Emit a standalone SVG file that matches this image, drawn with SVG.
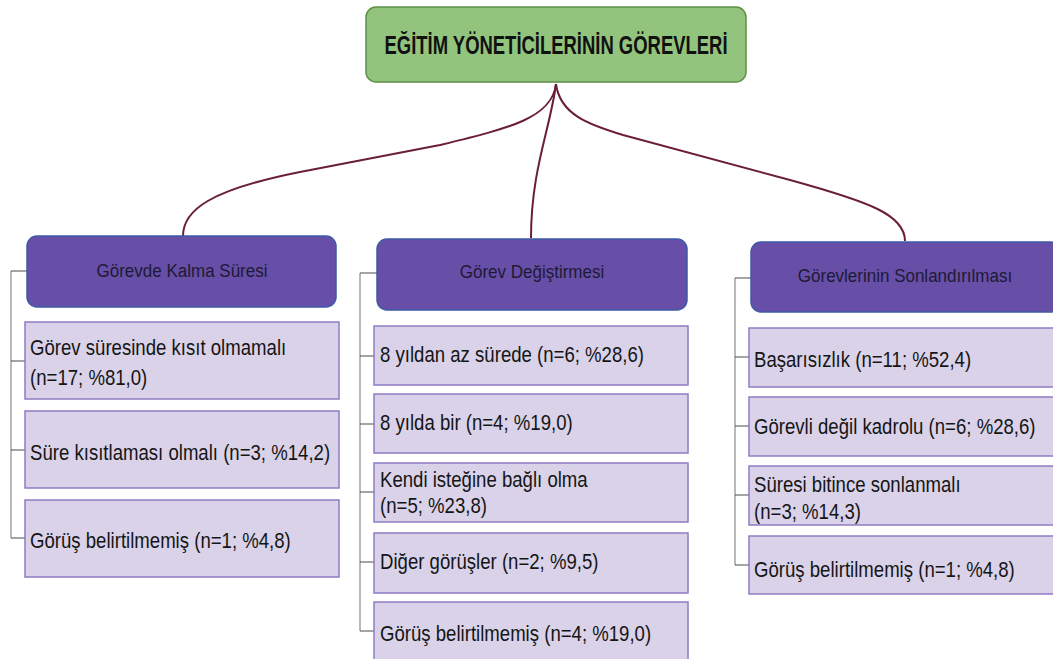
<svg xmlns="http://www.w3.org/2000/svg" width="1053" height="659" viewBox="0 0 1053 659">
  <style>
    .root-box { fill: #93c47d; stroke: #5f8f45; stroke-width: 1.5; }
    .head-box { fill: #674ea7; stroke: #3f5aa6; stroke-width: 1.5; }
    .item-box { fill: #d9d2e9; stroke: #8e7cc3; stroke-width: 1.5; }
    .root-txt { font-family: "Liberation Sans", Arial, sans-serif; font-weight: bold; font-size: 23px; fill: #111; text-anchor: middle; }
    .head-txt { font-family: "Liberation Sans", Arial, sans-serif; font-size: 17px; fill: #1c1a36; text-anchor: middle; }
    .item-txt { font-family: "Liberation Sans", Arial, sans-serif; font-size: 18.6px; fill: #151515; }
    .branch { fill: none; stroke: #6b1e3c; stroke-width: 2; }
    .rail { fill: none; stroke: #8a8a8a; stroke-width: 1.2; }
    .tick { fill: none; stroke: #4a4a4a; stroke-width: 1.2; }
  </style>

  <!-- connectors: curved branches from the title plus bracket rails for each list -->
  <g id="connectors">
    <path class="branch" d="M556,84 C552,118 510,128 440,145 L300,172 C210,190 183,210 183,236"/>
    <path class="branch" d="M556,84 C550,130 531,170 531,238"/>
    <path class="branch" d="M556,84 C560,115 590,125 623,135 L790,180 C870,202 905,215 905,241"/>

    <path class="rail" d="M11,271 V538"/>
    <path class="tick" d="M11,271 H27 M11,361 H25 M11,450 H25 M11,538 H25"/>

    <path class="rail" d="M360,273 V631"/>
    <path class="tick" d="M360,273 H377 M360,356 H374 M360,424 H374 M360,492 H374 M360,562 H374 M360,631 H374"/>

    <path class="rail" d="M735,278 V565"/>
    <path class="tick" d="M735,278 H751 M735,357 H749 M735,426 H749 M735,495 H749 M735,565 H749"/>
  </g>

  <g id="root">
    <rect class="root-box" x="366" y="7" width="380" height="75" rx="10"/>
    <text class="root-txt" transform="translate(556 54) scale(1 1.15)" textLength="343" lengthAdjust="spacingAndGlyphs">EĞİTİM YÖNETİCİLERİNİN GÖREVLERİ</text>
  </g>

  <!-- column 1 -->
  <g id="h-kalma">
    <rect class="head-box" x="27" y="236" width="309" height="71" rx="10"/>
    <text class="head-txt" transform="translate(182 277) scale(1 1.1)">Görevde Kalma Süresi</text>
  </g>
  <g id="k1">
    <rect class="item-box" x="25" y="322" width="314" height="77"/>
    <text class="item-txt" transform="translate(30 355) scale(1 1.18)">Görev süresinde kısıt olmamalı</text>
    <text class="item-txt" transform="translate(30 385) scale(1 1.18)">(n=17; %81,0)</text>
  </g>
  <g id="k2">
    <rect class="item-box" x="25" y="411" width="314" height="77"/>
    <text class="item-txt" transform="translate(30 460) scale(1 1.18)">Süre kısıtlaması olmalı (n=3; %14,2)</text>
  </g>
  <g id="k3">
    <rect class="item-box" x="25" y="500" width="314" height="77"/>
    <text class="item-txt" transform="translate(30 548) scale(1 1.18)">Görüş belirtilmemiş (n=1; %4,8)</text>
  </g>

  <!-- column 2 -->
  <g id="h-degistirme">
    <rect class="head-box" x="377" y="239" width="310" height="71" rx="10"/>
    <text class="head-txt" transform="translate(532 278) scale(1 1.1)">Görev Değiştirmesi</text>
  </g>
  <g id="d1">
    <rect class="item-box" x="374" y="326" width="314" height="59"/>
    <text class="item-txt" transform="translate(380 362) scale(1 1.18)">8 yıldan az sürede (n=6; %28,6)</text>
  </g>
  <g id="d2">
    <rect class="item-box" x="374" y="394" width="314" height="59"/>
    <text class="item-txt" transform="translate(380 430) scale(1 1.18)">8 yılda bir (n=4; %19,0)</text>
  </g>
  <g id="d3">
    <rect class="item-box" x="374" y="463" width="314" height="59"/>
    <text class="item-txt" transform="translate(380 487) scale(1 1.18)">Kendi isteğine bağlı olma</text>
    <text class="item-txt" transform="translate(380 513) scale(1 1.18)">(n=5; %23,8)</text>
  </g>
  <g id="d4">
    <rect class="item-box" x="374" y="533" width="314" height="60"/>
    <text class="item-txt" transform="translate(380 569) scale(1 1.18)">Diğer görüşler (n=2; %9,5)</text>
  </g>
  <g id="d5">
    <rect class="item-box" x="374" y="602" width="314" height="70"/>
    <text class="item-txt" transform="translate(380 641) scale(1 1.18)">Görüş belirtilmemiş (n=4; %19,0)</text>
  </g>

  <!-- column 3 -->
  <g id="h-sonlandirma">
    <rect class="head-box" x="751" y="242" width="310" height="70" rx="10"/>
    <text class="head-txt" transform="translate(905 282) scale(1 1.1)">Görevlerinin Sonlandırılması</text>
  </g>
  <g id="s1">
    <rect class="item-box" x="749" y="328" width="320" height="59"/>
    <text class="item-txt" transform="translate(754 367) scale(1 1.18)">Başarısızlık (n=11; %52,4)</text>
  </g>
  <g id="s2">
    <rect class="item-box" x="749" y="397" width="320" height="59"/>
    <text class="item-txt" transform="translate(754 434) scale(1 1.18)">Görevli değil kadrolu (n=6; %28,6)</text>
  </g>
  <g id="s3">
    <rect class="item-box" x="749" y="466" width="320" height="59"/>
    <text class="item-txt" transform="translate(754 492) scale(1 1.18)">Süresi bitince sonlanmalı</text>
    <text class="item-txt" transform="translate(754 519) scale(1 1.18)">(n=3; %14,3)</text>
  </g>
  <g id="s4">
    <rect class="item-box" x="749" y="536" width="320" height="58"/>
    <text class="item-txt" transform="translate(754 577) scale(1 1.18)">Görüş belirtilmemiş (n=1; %4,8)</text>
  </g>
</svg>
